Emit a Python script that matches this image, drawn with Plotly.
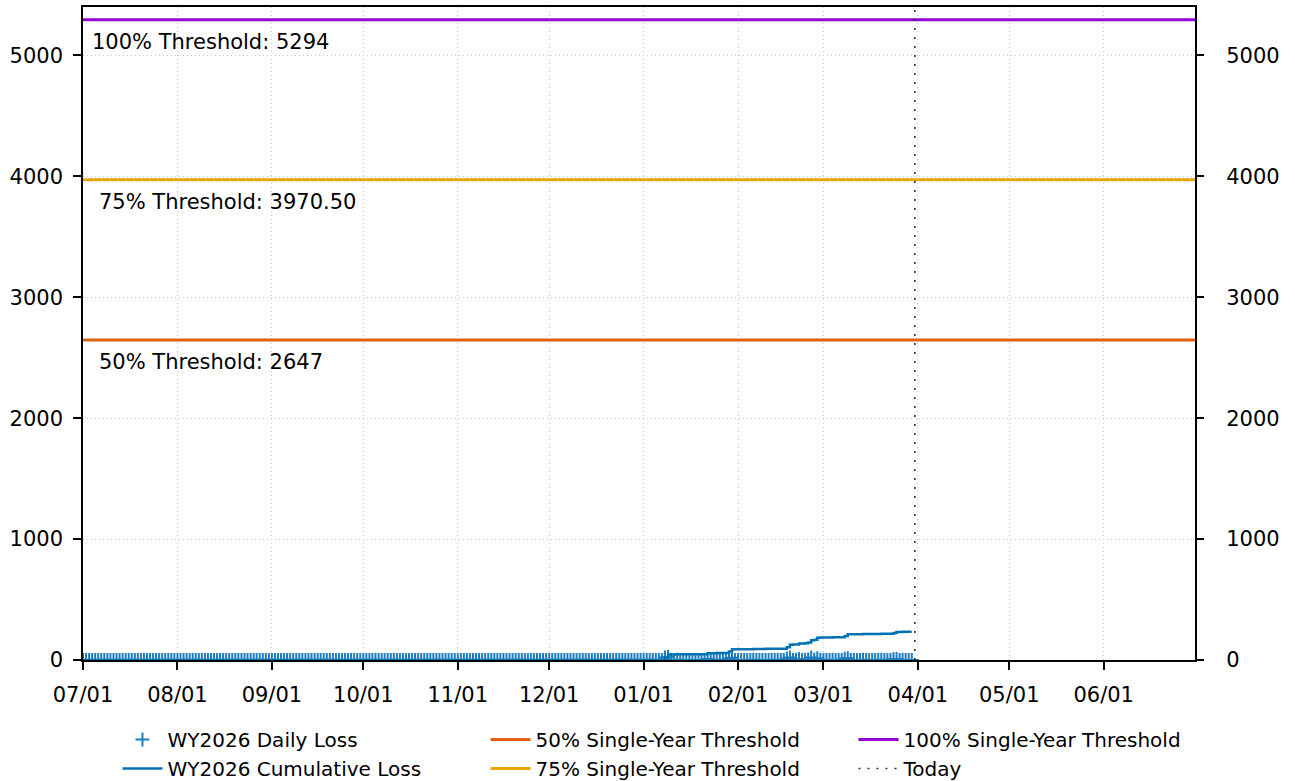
import pandas as pd
import numpy as np
import plotly.graph_objects as go

# ---------------- data ----------------
start_date = "2025-07-01"
last_data_date = "2026-03-30"
today_date = "2026-03-31"
axis_end = "2026-06-30 23:00"

month_ticks = ["2025-07-01", "2025-08-01", "2025-09-01", "2025-10-01", "2025-11-01",
               "2025-12-01", "2026-01-01", "2026-02-01", "2026-03-01", "2026-04-01",
               "2026-05-01", "2026-06-01"]
month_labels = ["07/01", "08/01", "09/01", "10/01", "11/01", "12/01",
                "01/01", "02/01", "03/01", "04/01", "05/01", "06/01"]

# daily loss, by month (Jul 2025 .. Mar 30 2026)
loss_jul = [0] * 31
loss_aug = [0] * 31
loss_sep = [0] * 30
loss_oct = [0] * 31
loss_nov = [0] * 30
loss_dec = [0] * 31
loss_jan = [0, 0, 0, 0, 0, 0, 0, 20, 25, 0, 0, 2, 0, 0, 1, 0, 0, 0, 0, 0, 0,
            8, 0, 0, 2, 0, 0, 0, 12, 18, 0]
loss_feb = [0, 0, 1, 0, 0, 2, 0, 0, 0, 1, 0, 0, 0, 2, 0, 0, 12, 20, 3, 0, 8,
            0, 2, 5, 20, 4, 15, 3]
loss_mar = [0, 1, 0, 2, 0, 0, 0, 10, 14, 0, 0, 0, 0, 2, 0, 0, 1, 0, 0, 2, 0,
            0, 0, 6, 8, 0, 1, 0, 1, 0]

threshold_50 = 2647
threshold_75 = 3970.50
threshold_100 = 5294

y_ticks = [0, 1000, 2000, 3000, 4000, 5000]
y_max = 5400

# ---------------- derived ----------------
daily_loss = (loss_jul + loss_aug + loss_sep + loss_oct + loss_nov + loss_dec
              + loss_jan + loss_feb + loss_mar)
dates = pd.date_range(start_date, last_data_date, freq="D")
cumulative_loss = np.cumsum(daily_loss)

FONT = "DejaVu Sans"
FS = 21
C_BLUE = "#0072B2"
C_DAILY = "#1b7cc0"
C_50 = "#E0620C"
C_75 = "#E8A700"
C_100 = "#9400D3"

fig = go.Figure()

# legend rows: Daily, 50%, 100% / Cumulative, 75%, Today
fig.add_trace(go.Scatter(
    x=dates, y=daily_loss, mode="markers", name="WY2026 Daily Loss",
    marker=dict(symbol="cross-thin", size=10, color=C_DAILY,
                line=dict(width=2, color=C_DAILY)),
    legendrank=1))
fig.add_trace(go.Scatter(
    x=[start_date, axis_end], y=[threshold_50, threshold_50], mode="lines",
    name="50% Single-Year Threshold", line=dict(color=C_50, width=3),
    legendrank=2))
fig.add_trace(go.Scatter(
    x=[start_date, axis_end], y=[threshold_100, threshold_100], mode="lines",
    name="100% Single-Year Threshold", line=dict(color=C_100, width=3),
    legendrank=3))
fig.add_trace(go.Scatter(
    x=dates, y=cumulative_loss, mode="lines", name="WY2026 Cumulative Loss",
    line=dict(color=C_BLUE, width=2.5, shape="hv"),
    legendrank=4))
fig.add_trace(go.Scatter(
    x=[start_date, axis_end], y=[threshold_75, threshold_75], mode="lines",
    name="75% Single-Year Threshold", line=dict(color=C_75, width=3),
    legendrank=5))
fig.add_trace(go.Scatter(
    x=[today_date, today_date], y=[0, y_max], mode="lines", name="Today",
    line=dict(color="#333333", width=1.6, dash="2px,7px"),
    legendrank=6))
# invisible trace to drive the right-hand axis
fig.add_trace(go.Scatter(
    x=[start_date], y=[0], yaxis="y2", mode="markers",
    marker=dict(opacity=0), showlegend=False, hoverinfo="skip"))

ann_font = dict(family=FONT, size=FS, color="black")
fig.add_annotation(x=0.006, xref="paper", y=threshold_100, yref="y",
                   text="100% Threshold: 5294", showarrow=False,
                   xanchor="left", yanchor="top", yshift=-8, font=ann_font)
fig.add_annotation(x=0.0125, xref="paper", y=threshold_75, yref="y",
                   text="75% Threshold: 3970.50", showarrow=False,
                   xanchor="left", yanchor="top", yshift=-8, font=ann_font)
fig.add_annotation(x=0.0125, xref="paper", y=threshold_50, yref="y",
                   text="50% Threshold: 2647", showarrow=False,
                   xanchor="left", yanchor="top", yshift=-8, font=ann_font)

fig.update_layout(
    width=1295, height=781,
    margin=dict(l=83, r=100, t=7, b=121, autoexpand=False),
    paper_bgcolor="white", plot_bgcolor="white",
    font=dict(family=FONT, size=FS, color="black"),
    showlegend=True,
    legend=dict(orientation="h", x=0.031, xanchor="left",
                y=1 - 720 / 781, yref="container", yanchor="top",
                entrywidth=313, entrywidthmode="pixels",
                font=dict(family=FONT, size=20), tracegroupgap=0,
                itemwidth=40, bgcolor="rgba(0,0,0,0)"),
    xaxis=dict(
        type="date", range=[start_date, axis_end], automargin=False,
        tickmode="array", tickvals=month_ticks, ticktext=month_labels,
        ticks="outside", ticklen=8, tickwidth=1.5, tickcolor="black",
        showline=True, linecolor="black", linewidth=1.5, mirror=True,
        showgrid=True, gridcolor="#c8c8c8", griddash="1px,3px", gridwidth=1,
        zeroline=False, ticklabelstandoff=7,
        tickfont=dict(family=FONT, size=FS)),
    yaxis=dict(
        range=[0, y_max], tickmode="array", tickvals=y_ticks, automargin=False,
        ticks="outside", ticklen=8, tickwidth=1.5, tickcolor="black",
        showline=True, linecolor="black", linewidth=1.5, mirror=True,
        showgrid=True, gridcolor="#c8c8c8", griddash="1px,3px", gridwidth=1,
        zeroline=False, ticklabelstandoff=6,
        tickfont=dict(family=FONT, size=FS)),
    yaxis2=dict(
        overlaying="y", side="right", matches="y", range=[0, y_max],
        tickmode="array", tickvals=y_ticks, automargin=False,
        ticks="outside", ticklen=8, tickwidth=1.5, tickcolor="black",
        showline=False, showgrid=False, zeroline=False, ticklabelstandoff=18,
        tickfont=dict(family=FONT, size=FS)),
)

fig.write_html("out.html",
               config={"displayModeBar": False},
               post_script="document.body.style.margin='0';"
                           "document.body.style.overflow='hidden';")
